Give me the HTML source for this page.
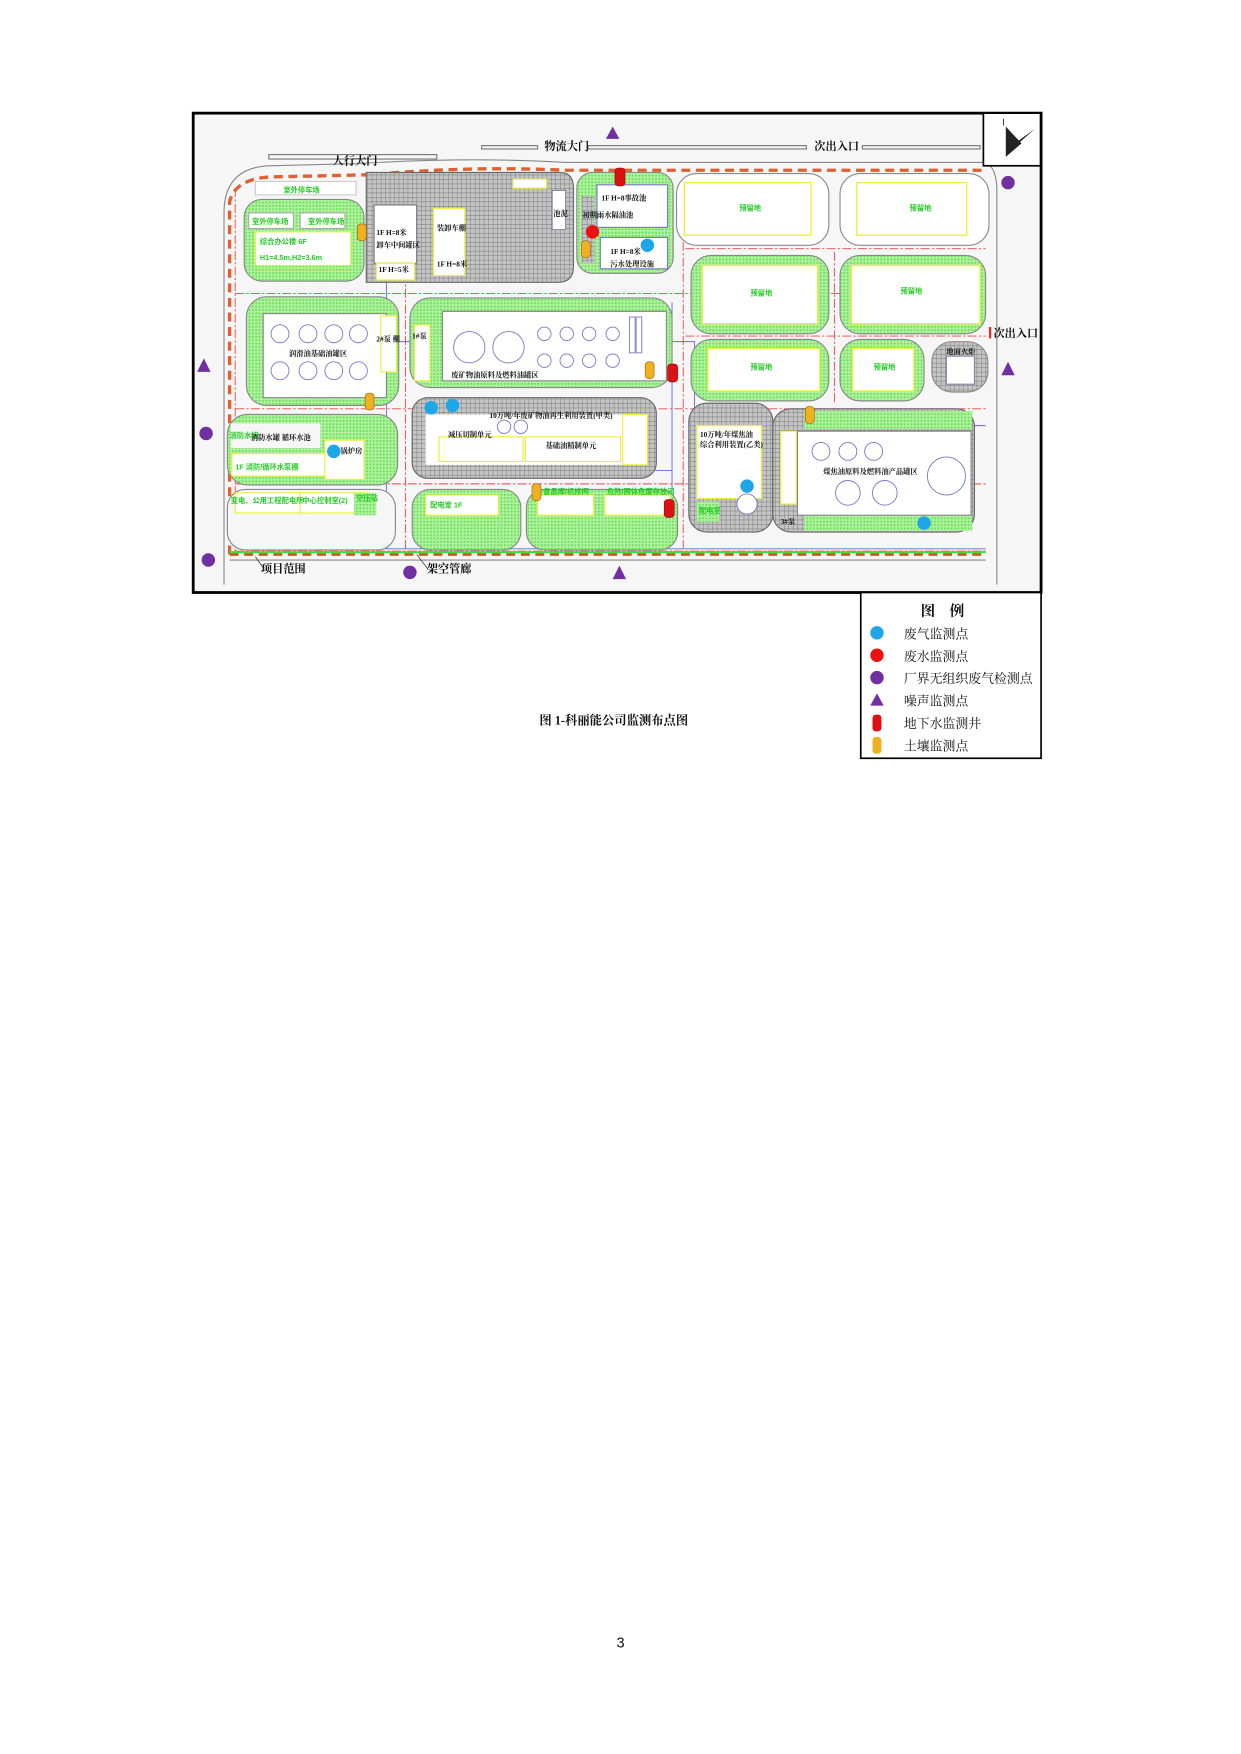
<!DOCTYPE html>
<html><head><meta charset="utf-8"><style>
html,body{margin:0;padding:0;background:#fff;}
svg{display:block;}
</style></head><body>
<svg width="1241" height="1754" viewBox="0 0 1108 1566" xmlns="http://www.w3.org/2000/svg" font-family="'Liberation Serif','Noto Serif CJK SC','Noto Sans CJK SC',serif">
<defs>
<pattern id="g" width="3" height="3" patternUnits="userSpaceOnUse"><rect width="3" height="3" fill="#b0f0a0"/><rect width="1.5" height="1.5" fill="#5ce04a"/></pattern>
<pattern id="k" width="4" height="4" patternUnits="userSpaceOnUse"><rect width="4" height="4" fill="#c4c4c4"/><path d="M0 0H4M0 0V4" stroke="#777" stroke-width="0.8"/></pattern>
</defs>
<rect x="172.5" y="101" width="757" height="428" fill="#f6f6f6" stroke="#000" stroke-width="2.5"/>
<g fill="none" stroke="#888" stroke-width="1">
<path d="M200 522 V190 Q200 150 240 148 L320 146 Q420 140 505 145 L880 145 Q890 150 890 170 V522"/>
<path d="M205 500 H880"/>
</g>
<rect x="240" y="138" width="150" height="4" fill="none" stroke="#777"/>
<rect x="430" y="130" width="50" height="3" fill="none" stroke="#777"/>
<rect x="525" y="130" width="195" height="3" fill="none" stroke="#777"/>
<rect x="770" y="130" width="105" height="3" fill="none" stroke="#777"/>
<rect x="878" y="101" width="51" height="47" fill="#fff" stroke="#000" stroke-width="1.5"/>
<path d="M898 138 L924 115 L906 128 Z M898 113 L898 140 L912 128Z" fill="#222"/>
<path d="M896 106 V112" stroke="#222" stroke-width="0.8"/>
<g stroke="#e44" stroke-width="0.8" stroke-dasharray="8 2 2 2" fill="none">
<path d="M210 168 V492 M210 262 H880 M210 365 H880 M210 432 H880 M210 492 H880 M362 160 V492 M610 160 V492 M745 225 V360 M612 222 H880 M612 300 H880"/>
</g>
<path d="M205 495 V180 Q210 160 240 158 L330 156 Q420 148 505 152 L880 152" fill="none" stroke="#e06030" stroke-width="3" stroke-dasharray="8 5"/>
<path d="M205 495 H880" fill="none" stroke="#c06020" stroke-width="2.5" stroke-dasharray="8 5"/>
<path d="M205 493 H880" stroke="#44dd33" stroke-width="2"/>
<g stroke="#6666dd" stroke-width="0.8" fill="none">
<path d="M345 250 V490 H880 M345 305 H620 V420 M382 370 V420 H600 M650 380 H880 M600 270 V450"/>
</g>
<rect x="218" y="178" width="107" height="73" rx="16" fill="url(#g)" stroke="#888"/>
<rect x="222" y="190" width="40" height="14" fill="#fff" stroke="#aaa"/>
<rect x="268" y="190" width="40" height="14" fill="#fff" stroke="#aaa"/>
<rect x="228" y="207" width="85" height="30" fill="#fff" stroke="#ee3"/>
<rect x="228" y="162" width="90" height="12" fill="#fff" stroke="#ccc"/>
<path d="M327 154 H500 Q512 154 512 168 V238 Q512 252 498 252 H327 Z" fill="url(#k)" stroke="#666"/>
<rect x="334" y="183" width="38" height="52" fill="#fff" stroke="#777"/>
<rect x="336" y="235" width="34" height="15" fill="#fff" stroke="#ee3"/>
<rect x="387" y="186" width="28" height="60" fill="#fff" stroke="#ee3"/>
<rect x="458" y="160" width="30" height="8" fill="#fff" stroke="#ee3"/>
<rect x="493" y="170" width="12" height="35" fill="#fff" stroke="#88a"/>
<rect x="515" y="154" width="86" height="90" rx="14" fill="url(#g)" stroke="#888"/>
<rect x="533" y="165" width="63" height="38" fill="#fff" stroke="#77c"/>
<rect x="536" y="212" width="60" height="28" fill="#fff" stroke="#77c"/>
<rect x="519" y="175" width="12" height="60" fill="url(#k)"/>
<g fill="#fff" stroke="#888">
<rect x="604" y="155" width="136" height="64" rx="18"/>
<rect x="750" y="155" width="133" height="64" rx="18"/>
</g>
<g fill="url(#g)" stroke="#888">
<rect x="617" y="228" width="123" height="70" rx="18"/>
<rect x="750" y="228" width="130" height="70" rx="18"/>
<rect x="617" y="303" width="123" height="55" rx="18"/>
<rect x="750" y="303" width="75" height="55" rx="18"/>
</g>
<rect x="832" y="305" width="50" height="45" rx="18" fill="url(#k)" stroke="#888"/>
<rect x="845" y="318" width="25" height="25" fill="#fff" stroke="#88a"/>
<g fill="#fff" stroke="#ee3" stroke-width="1.2">
<rect x="611" y="163" width="113" height="47"/>
<rect x="765" y="163" width="98" height="47"/>
<rect x="627" y="237" width="103" height="52"/>
<rect x="760" y="237" width="115" height="52"/>
<rect x="632" y="311" width="100" height="38"/>
<rect x="761" y="311" width="55" height="38"/>
</g>
<rect x="220" y="265" width="136" height="97" rx="18" fill="url(#g)" stroke="#888"/>
<rect x="235" y="280" width="110" height="75" fill="#fff" stroke="#888"/>
<rect x="340" y="282" width="14" height="50" fill="#fff" stroke="#ee3"/>
<rect x="366" y="266" width="234" height="80" rx="18" fill="url(#g)" stroke="#888"/>
<rect x="395" y="278" width="200" height="62" fill="#fff" stroke="#888"/>
<rect x="370" y="290" width="14" height="50" fill="#fff" stroke="#ee3"/>
<rect x="368" y="355" width="218" height="72" rx="14" fill="url(#k)" stroke="#666"/>
<rect x="380" y="370" width="180" height="45" fill="#fff"/>
<rect x="392" y="390" width="75" height="22" fill="#fff" stroke="#ee3"/>
<rect x="469" y="390" width="85" height="22" fill="#fff" stroke="#ee3"/>
<rect x="556" y="370" width="22" height="45" fill="#fff" stroke="#ee3"/>
<rect x="203" y="370" width="152" height="63" rx="18" fill="url(#g)" stroke="#888"/>
<rect x="206" y="378" width="80" height="22" fill="#f6f6f6"/>
<rect x="207" y="405" width="85" height="20" fill="#fff" stroke="#ee3"/>
<rect x="290" y="393" width="35" height="35" fill="#fff" stroke="#ee3"/>
<rect x="203" y="437" width="150" height="54" rx="16" fill="#f6f6f6" stroke="#888"/>
<rect x="210" y="440" width="65" height="18" fill="#fff" stroke="#ee3"/>
<rect x="268" y="440" width="60" height="18" fill="#fff" stroke="#ee3"/>
<rect x="316" y="440" width="20" height="20" fill="url(#g)"/>
<rect x="368" y="437" width="97" height="54" rx="16" fill="url(#g)" stroke="#888"/>
<rect x="380" y="442" width="65" height="18" fill="#fff" stroke="#ee3"/>
<rect x="470" y="437" width="135" height="54" rx="16" fill="url(#g)" stroke="#888"/>
<rect x="480" y="442" width="50" height="18" fill="#fff" stroke="#ee3"/>
<rect x="540" y="442" width="58" height="18" fill="#fff" stroke="#ee3"/>
<rect x="615" y="360" width="75" height="115" rx="16" fill="url(#k)" stroke="#666"/>
<rect x="622" y="380" width="58" height="65" fill="#fff" stroke="#ee3"/>
<rect x="622" y="448" width="20" height="18" fill="url(#g)"/>
<rect x="690" y="365" width="180" height="110" rx="16" fill="url(#k)" stroke="#666"/>
<rect x="718" y="367" width="150" height="16" fill="url(#g)"/>
<rect x="718" y="460" width="150" height="14" fill="url(#g)"/>
<rect x="712" y="385" width="155" height="75" fill="#fff" stroke="#888"/>
<rect x="697" y="385" width="14" height="65" fill="#fff" stroke="#ee3"/>
<g fill="#fff" stroke="#77c" stroke-width="0.8">
<circle cx="250" cy="298" r="8"/><circle cx="275" cy="298" r="8"/><circle cx="298" cy="298" r="8"/><circle cx="320" cy="298" r="8"/>
<circle cx="250" cy="331" r="8"/><circle cx="275" cy="331" r="8"/><circle cx="298" cy="331" r="8"/><circle cx="320" cy="331" r="8"/>
<circle cx="419" cy="310" r="14"/><circle cx="454" cy="310" r="14"/>
<circle cx="486" cy="298" r="6"/><circle cx="506" cy="298" r="6"/><circle cx="526" cy="298" r="6"/><circle cx="547" cy="298" r="6"/>
<circle cx="486" cy="322" r="6"/><circle cx="506" cy="322" r="6"/><circle cx="526" cy="322" r="6"/><circle cx="547" cy="322" r="6"/>
<rect x="562" y="283" width="5" height="32"/><rect x="568" y="283" width="5" height="32"/>
<circle cx="733" cy="403" r="8"/><circle cx="757" cy="403" r="8"/><circle cx="780" cy="403" r="8"/>
<circle cx="757" cy="440" r="11"/><circle cx="790" cy="440" r="11"/>
<circle cx="845" cy="425" r="17"/>
<circle cx="667" cy="450" r="9"/>
<circle cx="450" cy="381" r="6"/><circle cx="465" cy="381" r="6"/>
</g>
<g fill="#22cc22" font-size="6.5" font-weight="bold" font-family="'Liberation Sans','Noto Sans CJK SC',sans-serif">
<text x="253" y="172">室外停车场</text>
<text x="225" y="200">室外停车场</text><text x="275" y="200">室外停车场</text>
<text x="232" y="218">综合办公楼 6F</text><text x="232" y="232">H1=4.5m,H2=3.6m</text>
<text x="660" y="188">预留地</text><text x="812" y="188">预留地</text>
<text x="670" y="264">预留地</text><text x="804" y="262">预留地</text>
<text x="670" y="330">预留地</text><text x="780" y="330">预留地</text>
<text x="205" y="391">消防水罐</text>
<text x="210" y="419">1F 消防/循环水泵棚</text>
<text x="206" y="449">变电、公用工程配电所</text><text x="270" y="449">中心控制室(2)</text><text x="318" y="447">空压站</text>
<text x="384" y="453">配电室 1F</text><text x="485" y="441">备品库/机修间</text><text x="542" y="441">危险/固体危废存放间</text>
<text x="624" y="458">配电室</text>
</g>
<g fill="#111" font-size="6.5" font-weight="bold">
<text x="336" y="210">1F H=8米</text><text x="336" y="221">卸车中间罐区</text><text x="338" y="243">1F H=5米</text>
<text x="390" y="206">装卸车棚</text><text x="390" y="238">1F H=8米</text>
<text x="494" y="193">池泥</text>
<text x="537" y="179">1F H=8事故池</text><text x="520" y="194">初期雨水隔油池</text>
<text x="545" y="227">1F H=8米</text><text x="545" y="238">污水处理设施</text>
<text x="258" y="318">润滑油基础油罐区</text>
<text x="336" y="305">2#泵 棚</text><text x="368" y="302">1#泵</text>
<text x="403" y="337">废矿物油原料及燃料油罐区</text>
<text x="437" y="373">10万吨/年废矿物油再生利用装置(甲类)</text>
<text x="400" y="390">减压切制单元</text><text x="487" y="400">基础油精制单元</text>
<text x="224" y="393">消防水罐 循环水池</text>
<text x="304" y="405">锅炉房</text>
<text x="625" y="390">10万吨/年煤焦油</text><text x="625" y="399">综合利用装置(乙类)</text>
<text x="735" y="423">煤焦油原料及燃料油产品罐区</text>
<text x="697" y="468">3#泵</text>
<text x="845" y="316">地面火炬</text>
</g>
<g fill="#111" font-size="10" font-weight="bold">
<text x="297" y="147">人行大门</text>
<text x="486" y="134">物流大门</text>
<text x="727" y="134">次出入口</text>
<text x="887" y="301">次出入口</text>
<text x="233" y="511">项目范围</text>
<text x="381" y="511">架空管廊</text>
</g>
<path d="M228 497 L235 507 M372 495 L382 508" stroke="#333" stroke-width="0.7"/>
<rect x="883" y="292" width="2" height="10" fill="#e22"/>
<g fill="#7030a0">
<circle cx="900" cy="163" r="6"/><circle cx="184" cy="387" r="6"/><circle cx="186" cy="500" r="6"/><circle cx="366" cy="511" r="6"/>
<path d="M547 113 L553 124 L541 124Z M182 320 L188 332 L176 332Z M900 323 L906 335 L894 335Z M553 505 L559 517 L547 517Z"/>
</g>
<g fill="#1da7e8">
<circle cx="298" cy="403" r="6"/><circle cx="385" cy="364" r="6"/><circle cx="404" cy="362" r="6"/><circle cx="578" cy="219" r="6"/><circle cx="667" cy="434" r="6"/><circle cx="825" cy="467" r="6"/>
</g>
<circle cx="529" cy="207" r="6" fill="#ee1111"/>
<g fill="#dd1111" stroke="#800" stroke-width="0.5">
<rect x="549" y="150" width="9" height="16" rx="3"/><rect x="596" y="325" width="9" height="16" rx="3"/><rect x="593" y="446" width="9" height="16" rx="3"/>
</g>
<g fill="#f0b020" stroke="#8a6000" stroke-width="0.5">
<rect x="319" y="200" width="8" height="15" rx="3"/><rect x="326" y="351" width="8" height="15" rx="3"/><rect x="519" y="215" width="8" height="15" rx="3"/><rect x="576" y="323" width="8" height="15" rx="3"/><rect x="475" y="432" width="8" height="15" rx="3"/><rect x="719" y="363" width="8" height="15" rx="3"/>
</g>
<rect x="768.5" y="529" width="161" height="148" fill="#fff" stroke="#000" stroke-width="1.5"/>
<text x="822" y="550" font-size="13" font-weight="bold" fill="#111">图　例</text>
<g font-size="11.5" fill="#111">
<text x="807" y="570">废气监测点</text>
<text x="807" y="590">废水监测点</text>
<text x="807" y="610">厂界无组织废气检测点</text>
<text x="807" y="630">噪声监测点</text>
<text x="807" y="650">地下水监测井</text>
<text x="807" y="670">土壤监测点</text>
</g>
<circle cx="783" cy="565" r="6" fill="#1da7e8"/>
<circle cx="783" cy="585" r="6" fill="#ee1111"/>
<circle cx="783" cy="605" r="6" fill="#7030a0"/>
<path d="M783 619 L789 630 L777 630Z" fill="#7030a0"/>
<rect x="779" y="638" width="8" height="15" rx="3" fill="#dd1111"/>
<rect x="779" y="658" width="8" height="15" rx="3" fill="#f0b020"/>
<text x="548" y="647" font-size="11" text-anchor="middle" fill="#111" font-weight="bold">图 1-科丽能公司监测布点图</text>
<text x="554" y="1471" font-size="13" text-anchor="middle" fill="#111" font-family="'Liberation Sans',sans-serif">3</text>
</svg>
</body></html>
